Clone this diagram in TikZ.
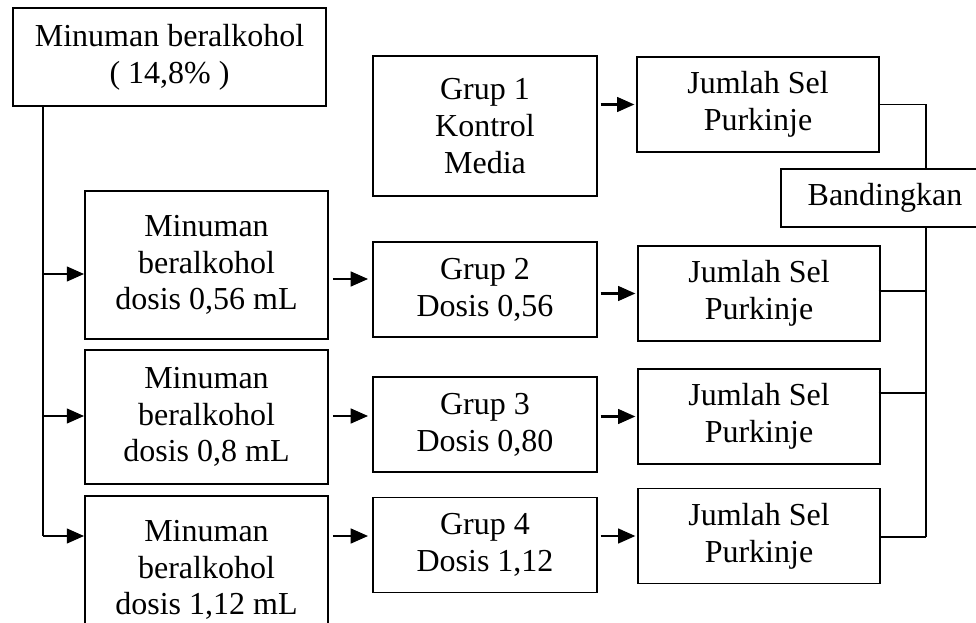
\documentclass[tikz,border=0pt]{standalone}
\usepackage{fontspec}
\setmainfont{Liberation Serif}
\usetikzlibrary{arrows.meta}

\begin{document}
\begin{tikzpicture}[x=0.375pt, y=-0.375pt,
    font=\fontsize{12pt}{13.8pt}\selectfont,
    box/.style={draw, line width=0.7pt, align=center, inner sep=0pt},
    arr/.style={-{Triangle[length=6.5pt, width=5.5pt]}, line width=0.9pt},
    link/.style={line width=0.7pt}]
    % Frame
    \useasboundingbox (0,0) rectangle (976,623);
    \clip (0,0) rectangle (976,623);

    % Alcohol doses
    \node [box, minimum width=117.4pt, minimum height=36.75pt] (alk) at (169.5,57) {Minuman beralkohol\\( 14,8\% )};
    \node [box, minimum width=91.1pt, minimum height=55.5pt] (m1) at (206.5,265) {Minuman\\beralkohol\\dosis 0,56 mL};
    \node [box, minimum width=91.1pt, minimum height=50.25pt] (m2) at (206.5,417) {Minuman\\beralkohol\\dosis 0,8 mL};
    \node [box, minimum width=91.1pt, minimum height=55.5pt] (m3) at (206.5,570) {Minuman\\beralkohol\\dosis 1,12 mL};

    % Groups
    \node [box, minimum width=84pt, minimum height=52.5pt] (g1) at (485,126) {Grup 1\\Kontrol\\Media};
    \node [box, minimum width=84pt, minimum height=35.6pt] (g2) at (485,289.5) {Grup 2\\Dosis 0,56};
    \node [box, minimum width=84pt, minimum height=35.6pt] (g3) at (485,424.5) {Grup 3\\Dosis 0,80};
    \node [box, minimum width=84pt, minimum height=35.6pt] (g4) at (485,545) {Grup 4\\Dosis 1,12};

    % Purkinje counts
    \node [box, minimum width=91pt, minimum height=35.6pt] (j1) at (758,104.5) {Jumlah Sel\\Purkinje};
    \node [box, minimum width=91pt, minimum height=35.6pt] (j2) at (759,293.5) {Jumlah Sel\\Purkinje};
    \node [box, minimum width=91pt, minimum height=35.6pt] (j3) at (759,416.5) {Jumlah Sel\\Purkinje};
    \node [box, minimum width=91pt, minimum height=35.6pt] (j4) at (759,536) {Jumlah Sel\\Purkinje};
    \node [box, minimum width=78pt, minimum height=21.75pt] (cmp) at (885,198) {Bandingkan};

    % Left bus
    \coordinate (a1) at (43,274);
    \coordinate (a2) at (43,416);
    \coordinate (a3) at (43,536);
    \draw [link] (alk.south -| a3) -- (a3);
    \draw [arr] (a1) -- (m1.west |- a1);
    \draw [arr] (a2) -- (m2.west |- a2);
    \draw [arr] (a3) -- (m3.west |- a3);

    % Dose to group
    \coordinate (b1) at (0,279);
    \draw [arr, shorten <=1.5pt, shorten >=1.5pt] (m1.east |- b1) -- (g2.west |- b1);
    \draw [arr, shorten <=1.5pt, shorten >=1.5pt] (m2.east |- a2) -- (g3.west |- a2);
    \draw [arr, shorten <=1.5pt, shorten >=1.5pt] (m3.east |- a3) -- (g4.west |- a3);

    % Group to count
    \draw [arr, shorten <=1pt, shorten >=0.5pt] (g1.east |- j1) -- (j1);
    \draw [arr, shorten <=1pt, shorten >=0.5pt] (g2.east |- j2) -- (j2);
    \draw [arr, shorten <=1pt, shorten >=0.5pt] (g3.east |- j3) -- (j3);
    \draw [arr, shorten <=1pt, shorten >=0.5pt] (g4.east |- j4) -- (j4);

    % Right bus
    \coordinate (c2) at (926,291);
    \coordinate (c3) at (926,393);
    \coordinate (c4) at (926,537);
    \draw [link] (j1.east) -| (cmp.north -| c4);
    \draw [link] (cmp.south -| c4) -- (c4);
    \draw [link] ([xshift=-1pt]j2.east |- c2) -- (c2);
    \draw [link] ([xshift=-1pt]j3.east |- c3) -- (c3);
    \draw [link] (j4.east |- c4) -- (c4);
\end{tikzpicture}
\end{document}
